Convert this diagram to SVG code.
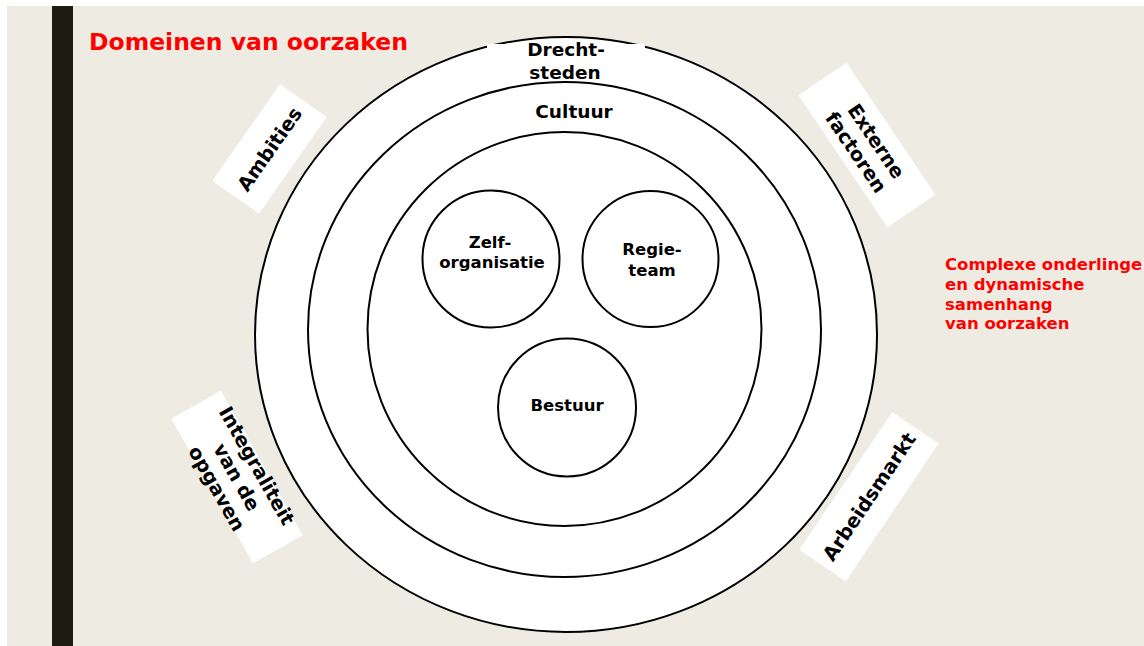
<svg xmlns="http://www.w3.org/2000/svg" width="1144" height="646" viewBox="0 0 1144 646">
<style>
.ring{fill:#fff;stroke:#000;stroke-width:2}
.lbl{font-family:"DejaVu Sans","Verdana",sans-serif;font-weight:bold;fill:#000;text-anchor:middle}
.ring-l{font-size:18.5px}
.inner{font-size:16.5px}
.side{font-size:19.5px}
.box{fill:#fff}
.red{font-family:"DejaVu Sans","Verdana",sans-serif;font-weight:bold;fill:#ff0000}
</style>
<rect x="0" y="0" width="1144" height="646" fill="#ffffff"/>
<rect x="7" y="6" width="1137" height="640" fill="#eeebe3"/>
<rect x="52" y="6" width="21" height="640" fill="#1c1c10"/>
<text class="red" x="89" y="50" font-size="23.5">Domeinen van oorzaken</text>

<g id="drechtsteden">
<ellipse class="ring" cx="566" cy="334.5" rx="311" ry="297.5"/>
<rect x="487" y="44" width="158" height="34" fill="#fff"/>
<text class="lbl ring-l" x="566" y="56">Drecht-</text>
<text class="lbl ring-l" x="565" y="79">steden</text>
</g>
<g id="cultuur">
<ellipse class="ring" cx="564.5" cy="329.5" rx="256.5" ry="247.5"/>
<text class="lbl ring-l" x="574" y="118">Cultuur</text>
</g>
<g id="kern">
<circle class="ring" cx="564.5" cy="329" r="197"/>
</g>
<g id="zelforganisatie">
<circle class="ring" cx="491" cy="259" r="68.5"/>
<text class="lbl inner" x="490" y="248">Zelf-</text>
<text class="lbl inner" x="492" y="268">organisatie</text>
</g>
<g id="regieteam">
<circle class="ring" cx="650.5" cy="259" r="68"/>
<text class="lbl inner" x="652" y="255">Regie-</text>
<text class="lbl inner" x="652" y="276">team</text>
</g>
<g id="bestuur">
<circle class="ring" cx="567" cy="407.5" r="69"/>
<text class="lbl inner" x="567" y="411">Bestuur</text>
</g>

<g id="ambities" transform="translate(269.5,149) rotate(-55)">
<rect class="box" x="-59" y="-28.5" width="118" height="57"/>
<text class="lbl side" x="0" y="7">Ambities</text>
</g>
<g id="externe-factoren" transform="translate(867,145) rotate(56)">
<rect class="box" x="-79.5" y="-29" width="159" height="58"/>
<text class="lbl side" x="2" y="-3">Externe</text>
<text class="lbl side" x="0" y="20">factoren</text>
</g>
<g id="integraliteit" transform="translate(237,477) rotate(60.5)">
<rect class="box" x="-83" y="-28.5" width="166" height="57"/>
<text class="lbl side" x="0" y="-16">Integraliteit</text>
<text class="lbl side" x="0" y="7">van de</text>
<text class="lbl side" x="0" y="30">opgaven</text>
</g>
<g id="arbeidsmarkt" transform="translate(869,496.7) rotate(-56)">
<rect class="box" x="-83" y="-28" width="166" height="56"/>
<text class="lbl side" x="0" y="7">Arbeidsmarkt</text>
</g>

<g id="connectors"/>

<g id="toelichting">
<text class="red" font-size="16.5"><tspan x="945" y="270">Complexe onderlinge</tspan><tspan x="945" y="290">en dynamische</tspan><tspan x="945" y="310">samenhang</tspan><tspan x="945" y="329">van oorzaken</tspan></text>
</g>
</svg>
